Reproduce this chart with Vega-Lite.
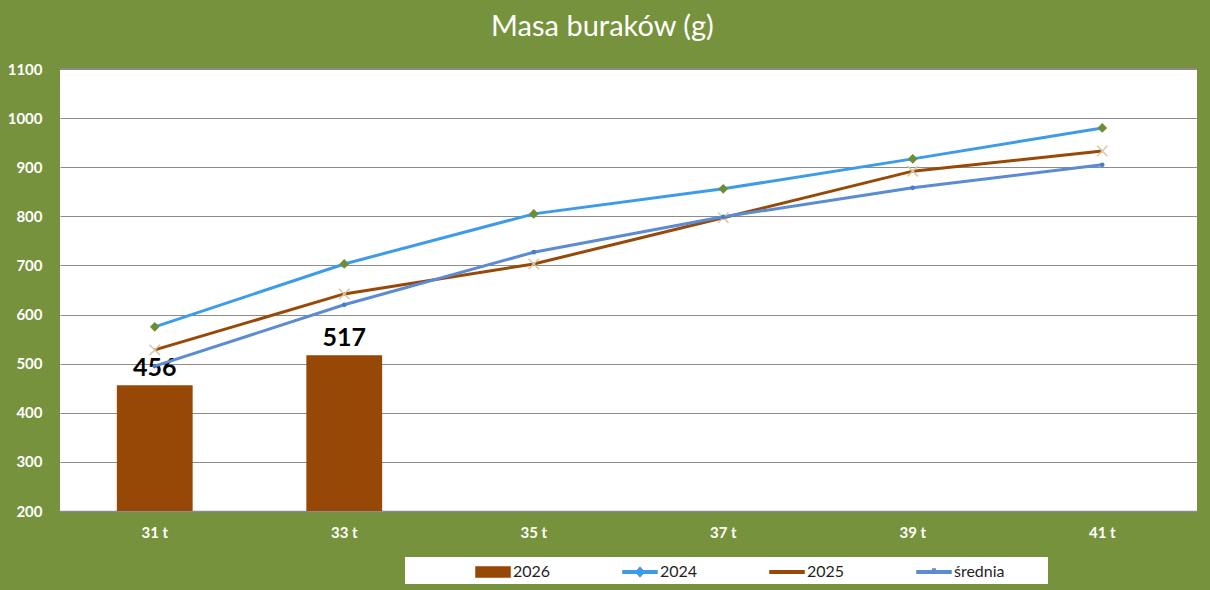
{
  "$schema": "https://vega.github.io/schema/vega-lite/v6.json",
  "description": "Masa buraków (g) - słupki 2026 i linie 2024, 2025, średnia.",
  "width": 1137,
  "height": 442,
  "autosize": {"type": "none"},
  "padding": {"left": 60, "top": 69, "right": 13, "bottom": 79},
  "background": "#76923C",
  "title": {
    "text": "Masa buraków (g)",
    "color": "white",
    "font": "Lato",
    "fontSize": 29,
    "fontWeight": "normal",
    "anchor": "middle",
    "frame": "bounds",
    "offset": 20
  },
  "data": {
    "values": [
      {"week": "31 t", "series": "2026", "value": 456},
      {"week": "33 t", "series": "2026", "value": 517},
      {"week": "31 t", "series": "2024", "value": 575},
      {"week": "33 t", "series": "2024", "value": 703},
      {"week": "35 t", "series": "2024", "value": 805},
      {"week": "37 t", "series": "2024", "value": 856},
      {"week": "39 t", "series": "2024", "value": 917},
      {"week": "41 t", "series": "2024", "value": 980},
      {"week": "31 t", "series": "2025", "value": 528},
      {"week": "33 t", "series": "2025", "value": 642},
      {"week": "35 t", "series": "2025", "value": 703},
      {"week": "37 t", "series": "2025", "value": 797},
      {"week": "39 t", "series": "2025", "value": 892},
      {"week": "41 t", "series": "2025", "value": 933},
      {"week": "31 t", "series": "średnia", "value": 495},
      {"week": "33 t", "series": "średnia", "value": 620},
      {"week": "35 t", "series": "średnia", "value": 727},
      {"week": "37 t", "series": "średnia", "value": 799},
      {"week": "39 t", "series": "średnia", "value": 858},
      {"week": "41 t", "series": "średnia", "value": 905}
    ]
  },
  "encoding": {
    "x": {
      "field": "week",
      "type": "nominal",
      "sort": null,
      "scale": {"domain": ["31 t", "33 t", "35 t", "37 t", "39 t", "41 t"], "paddingInner": 0.6, "paddingOuter": 0.3},
      "axis": {
        "title": null,
        "labelAngle": 0,
        "labelFont": "Lato",
        "labelFontSize": 15,
        "labelFontWeight": "bold",
        "labelColor": "white",
        "labelPadding": 14,
        "domain": true,
        "domainColor": "#8C8C8C",
        "domainWidth": 1.5,
        "ticks": false,
        "grid": false
      }
    },
    "y": {
      "field": "value",
      "type": "quantitative",
      "scale": {"domain": [200, 1100], "nice": false, "zero": false},
      "axis": {
        "title": null,
        "values": [200, 300, 400, 500, 600, 700, 800, 900, 1000, 1100],
        "format": "d",
        "labelFont": "Lato",
        "labelFontSize": 15,
        "labelFontWeight": "bold",
        "labelColor": "white",
        "labelPadding": 18,
        "domain": false,
        "ticks": false,
        "grid": true,
        "gridColor": "#8C8C8C",
        "gridWidth": 1.2
      }
    }
  },
  "layer": [
    {
      "mark": {"type": "rule", "color": "#8C8C8C", "strokeWidth": 1.5},
      "encoding": {"y": {"datum": 1100}, "x": null}
    },
    {
      "transform": [{"filter": "datum.series === '2026'"}],
      "mark": {"type": "bar"},
      "encoding": {
        "y2": {"datum": 200},
        "color": {
          "field": "series",
          "type": "nominal",
          "scale": {
            "domain": ["2026", "2024", "2025", "średnia"],
            "range": ["#974706", "#3D9BE9", "#984807", "#5A8BD3"]
          },
          "legend": {
            "orient": "none",
            "legendX": 345,
            "legendY": 488,
            "direction": "horizontal",
            "columns": 4,
            "title": "\u00a0",
            "titleOrient": "right",
            "titlePadding": 39,
            "fillColor": "white",
            "padding": 4,
            "symbolOffset": 73,
            "columnPadding": 5,
            "symbolSize": 400,
            "labelOffset": 9,
            "labelFont": "Lato",
            "labelFontSize": 16,
            "labelColor": "#1F1F1F",
            "encode": {
              "symbols": {
                "update": {
                  "shape": {"signal": "datum.value === '2026' ? 'M-1.7,-0.5H1.7V0.5H-1.7Z' : datum.value === '2024' ? 'M-1.7,-0.13H1.7V0.13H-1.7ZM0,-0.45L0.4,0L0,0.45L-0.4,0Z' : datum.value === '2025' ? 'M-1.7,-0.13H1.7V0.13H-1.7Z' : 'M-1.7,-0.13H1.7V0.13H-1.7ZM-0.12,-0.3H0.12V0H-0.12Z'"},
                  "fill": {"scale": "color", "field": "value"},
                  "stroke": {"value": "transparent"},
                  "opacity": {"value": 1}
                }
              }
            }
          }
        }
      }
    },
    {
      "transform": [{"filter": "datum.series === '2026'"}],
      "mark": {"type": "text", "baseline": "bottom", "dy": -4, "font": "Lato", "fontSize": 25, "fontWeight": "bold", "color": "black"},
      "encoding": {"text": {"field": "value", "type": "quantitative"}}
    },
    {
      "transform": [{"filter": "datum.series !== '2026'"}],
      "mark": {"type": "line", "strokeWidth": 3},
      "encoding": {
        "color": {"field": "series", "type": "nominal"}
      }
    },
    {
      "transform": [{"filter": "datum.series === '2024'"}],
      "mark": {"type": "point", "shape": "diamond", "filled": true, "size": 95, "color": "#6E8E35", "opacity": 1},
      "encoding": {}
    },
    {
      "transform": [{"filter": "datum.series === '2025'"}],
      "mark": {"type": "point", "shape": "M-1,-1L1,1M-1,1L1,-1", "filled": false, "size": 110, "color": "#D5C7A6", "strokeWidth": 1.5, "opacity": 1},
      "encoding": {}
    },
    {
      "transform": [{"filter": "datum.series === 'średnia'"}],
      "mark": {"type": "point", "shape": "circle", "filled": true, "size": 22, "color": "#4A7DC9", "opacity": 1},
      "encoding": {}
    }
  ],
  "config": {
    "view": {"fill": "white", "stroke": null},
    "font": "Lato"
  }
}
